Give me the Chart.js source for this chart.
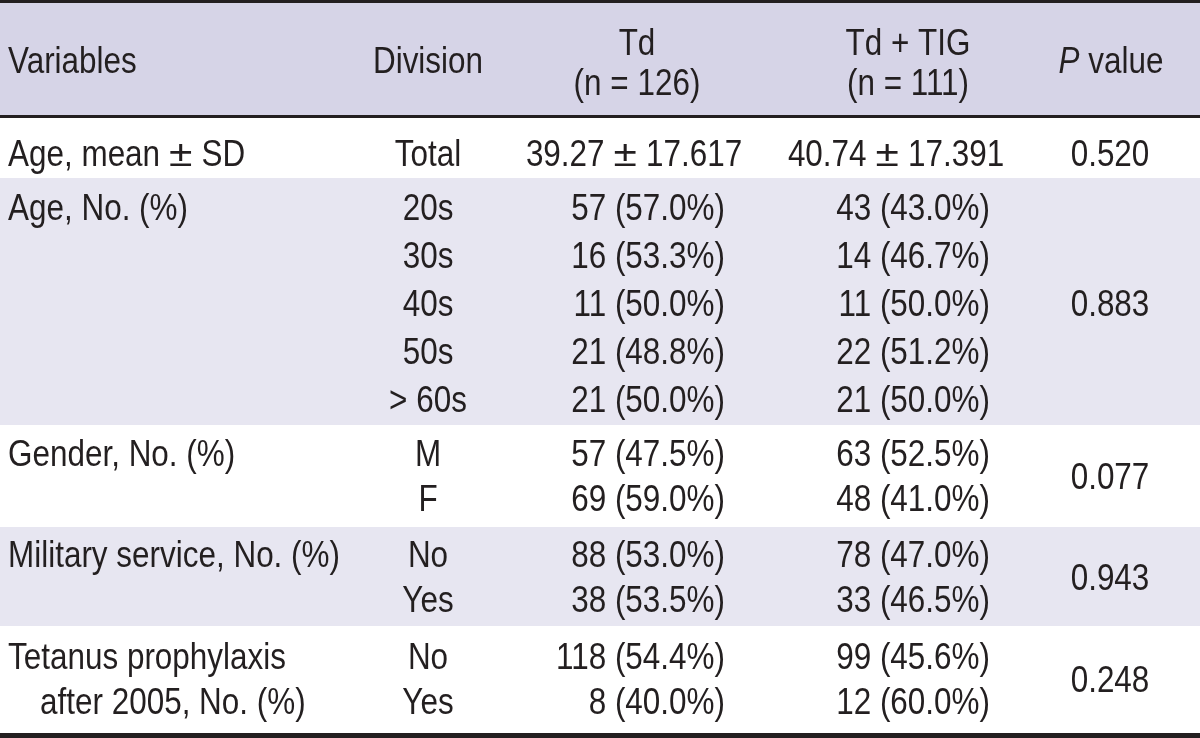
<!DOCTYPE html>
<html>
<head>
<meta charset="utf-8">
<title>Td vs Td + TIG</title>
<script src="https://cdn.jsdelivr.net/npm/chart.js@4.4.1/dist/chart.umd.min.js"></script>
<style>
  html, body { margin: 0; padding: 0; background: #ffffff; }
  #wrap { width: 1200px; height: 738px; }
</style>
</head>
<body>
<div id="wrap"><canvas id="table" width="1200" height="738"></canvas></div>
<script>
'use strict';

// Table contents
const headerLabels = ['Variables', 'Division', ['Td', '(n = 126)'], ['Td + TIG', '(n = 111)'], 'P value'];
const variables = ['Age, mean \u00b1 SD', 'Age, No. (%)', 'Gender, No. (%)', 'Military service, No. (%)', ['Tetanus prophylaxis', 'after 2005, No. (%)']];
const divisions = [['Total'], ['20s', '30s', '40s', '50s', '> 60s'], ['M', 'F'], ['No', 'Yes'], ['No', 'Yes']];
const tdValues = [
  ['39.27 \u00b1 17.617'],
  ['57 (57.0%)', '16 (53.3%)', '11 (50.0%)', '21 (48.8%)', '21 (50.0%)'],
  ['57 (47.5%)', '69 (59.0%)'],
  ['88 (53.0%)', '38 (53.5%)'],
  ['118 (54.4%)', '8 (40.0%)'],
];
const tigValues = [
  ['40.74 \u00b1 17.391'],
  ['43 (43.0%)', '14 (46.7%)', '11 (50.0%)', '22 (51.2%)', '21 (50.0%)'],
  ['63 (52.5%)', '48 (41.0%)'],
  ['78 (47.0%)', '33 (46.5%)'],
  ['99 (45.6%)', '12 (60.0%)'],
];
const pValues = ['0.520', '0.883', '0.077', '0.943', '0.248'];

// Layout (in scale units, which map 1:1 to the 1200x738 canvas)
const W = 1200, H = 738;
const INK = '#231f20';
const HEADER_BG = '#d6d4e7';
const BAND_BG = '#e7e6f1';
const FONT = '"Liberation Sans", Arial, sans-serif';
const FONT_SIZE = 37;
const NARROW = 0.85; // horizontal squeeze to get a condensed face
const PM_GAP = 9;    // room either side of the ± sign
const PM_SCALE = 1.15;

const groupTop = [118, 178, 425, 527, 626];
const groupBottom = [178, 425, 527, 626, 733];
const rowBaselines = [[166], [220, 268, 316, 364, 412], [466, 511], [567, 612], [669, 714]];
const varX = 8, varIndentX = 40;
const divX = 428, tdRight = 725, tdMid = 634, tigRight = 990, tigMid = 896, pX = 1110;

const tablePlugin = {
  id: 'tableDraw',
  beforeDatasetsDraw(chart) {
    const ctx = chart.ctx;
    const xs = chart.scales.x, ys = chart.scales.y;
    const px = v => xs.getPixelForValue(v);
    const py = v => ys.getPixelForValue(v);
    const rect = (x0, y0, x1, y1, color) => {
      ctx.fillStyle = color;
      ctx.fillRect(px(x0), py(y0), px(x1) - px(x0), py(y1) - py(y0));
    };
    const fontFor = italic => `${italic ? 'italic ' : ''}${FONT_SIZE}px ${FONT}`;
    const rawWidth = (str, italic, sx = NARROW) => {
      ctx.font = fontFor(italic);
      return ctx.measureText(str).width * sx;
    };
    const drawLeft = (str, xPix, yPix, italic, sx = NARROW) => {
      ctx.save();
      ctx.font = fontFor(italic);
      ctx.translate(xPix, yPix);
      ctx.scale(sx, 1);
      ctx.textAlign = 'left';
      ctx.fillText(str, 0, 0);
      ctx.restore();
    };
    // split " ± " so the sign gets wider spacing and size, like the typeset original
    const pieces = str => {
      const parts = str.split(' \u00b1 ');
      const out = [];
      parts.forEach((p, i) => {
        if (i > 0) out.push({ s: '\u00b1', gap: PM_GAP, sx: PM_SCALE });
        out.push({ s: p, gap: 0, sx: NARROW });
      });
      return out;
    };
    const widthOf = str => pieces(str).reduce((w, p) => w + rawWidth(p.s, false, p.sx) + p.gap * 2, 0);
    const text = (str, x, y, align) => {
      const w = widthOf(str);
      let cx = px(x);
      if (align === 'center') cx -= w / 2;
      else if (align === 'right') cx -= w;
      pieces(str).forEach(p => {
        cx += p.gap;
        drawLeft(p.s, cx, py(y), false, p.sx);
        cx += rawWidth(p.s, false, p.sx) + p.gap;
      });
    };

    ctx.save();
    // backgrounds
    rect(0, 0, W, H, '#ffffff');
    rect(0, 3, W, 115, HEADER_BG);
    groupTop.forEach((t, i) => {
      if (i % 2 === 1) rect(0, t, W, groupBottom[i], BAND_BG);
    });
    // rules
    rect(0, 0, W, 3, INK);
    rect(0, 115, W, 118, INK);
    rect(0, 733, W, H, INK);

    ctx.fillStyle = INK;
    ctx.textBaseline = 'alphabetic';

    // header
    text(headerLabels[0], varX, 73, 'left');
    text(headerLabels[1], divX, 73, 'center');
    text(headerLabels[2][0], 637, 55, 'center');
    text(headerLabels[2][1], 637, 95, 'center');
    text(headerLabels[3][0], 908, 55, 'center');
    text(headerLabels[3][1], 908, 95, 'center');
    // "P value" with italic P
    const pLabel = headerLabels[4];
    const italicPart = pLabel.slice(0, 1), restPart = pLabel.slice(1);
    const wI = rawWidth(italicPart, true), wR = rawWidth(restPart, false);
    const startX = px(1111) - (wI + wR) / 2;
    drawLeft(italicPart, startX, py(73), true);
    drawLeft(restPart, startX + wI, py(73), false);

    // body
    variables.forEach((v, g) => {
      const bl = rowBaselines[g];
      if (Array.isArray(v)) {
        v.forEach((line, k) => text(line, k === 0 ? varX : varIndentX, bl[k], 'left'));
      } else {
        text(v, varX, bl[0], 'left');
      }
      divisions[g].forEach((d, r) => text(d, divX, bl[r], 'center'));
      const single = bl.length === 1;
      tdValues[g].forEach((d, r) => text(d, single ? tdMid : tdRight, bl[r], single ? 'center' : 'right'));
      tigValues[g].forEach((d, r) => text(d, single ? tigMid : tigRight, bl[r], single ? 'center' : 'right'));
      const pY = (bl[0] + bl[bl.length - 1]) / 2;
      text(pValues[g], pX, pY, 'center');
    });
    ctx.restore();
  },
};

new Chart(document.getElementById('table'), {
  type: 'scatter',
  data: { datasets: [] },
  options: {
    responsive: false,
    animation: false,
    events: [],
    layout: { padding: 0 },
    plugins: { legend: { display: false }, tooltip: { enabled: false } },
    scales: {
      x: { type: 'linear', min: 0, max: W, display: false },
      y: { type: 'linear', min: 0, max: H, reverse: true, display: false },
    },
  },
  plugins: [tablePlugin],
});
</script>
</body>
</html>
